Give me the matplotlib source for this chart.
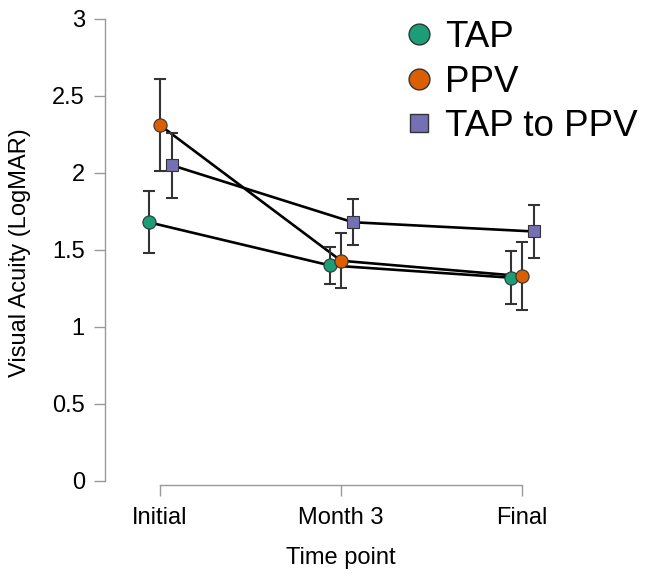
import numpy as np
import matplotlib
matplotlib.use('Agg')
import matplotlib.pyplot as plt
from matplotlib.lines import Line2D

plt.rcParams['font.family'] = ['Liberation Sans', 'DejaVu Sans']

# Data
time_points = ['Initial', 'Month 3', 'Final']
groups = ['TAP', 'PPV', 'TAP to PPV']
tap_mean = [1.68, 1.40, 1.32]
tap_err = [0.20, 0.12, 0.17]
ppv_mean = [2.31, 1.43, 1.33]
ppv_err = [0.30, 0.18, 0.22]
tap_ppv_mean = [2.05, 1.68, 1.62]
tap_ppv_err = [0.21, 0.15, 0.17]

colors = ['#1b9e77', '#d95f02', '#7570b3']
markers = ['o', 'o', 's']
sizes = [9.5, 9.5, 8.5]
dodge = [-0.063, 0.0, 0.065]
means = [tap_mean, ppv_mean, tap_ppv_mean]
errs = [tap_err, ppv_err, tap_ppv_err]

fig = plt.figure(figsize=(6.48, 5.74), dpi=100)
ax = fig.add_axes([0.162, 0.1551, 0.8256, 0.8275])

x = np.arange(len(time_points))
for i in range(3):
    xi = x + dodge[i]
    ax.plot(xi, means[i], color='black', lw=1.9, zorder=2)
    ax.errorbar(xi, means[i], yerr=errs[i], fmt='none', ecolor='#333333',
                elinewidth=1.5, capsize=4.5, capthick=1.5, zorder=3)
    ax.plot(xi, means[i], linestyle='none', marker=markers[i], ms=sizes[i],
            mfc=colors[i], mec='#333333', mew=0.8, zorder=4)

ax.set_xlim(-0.304, 2.652)
ax.set_ylim(-0.026, 3.058)
ax.set_xticks(x)
ax.set_xticklabels(time_points)
ax.set_yticks([0, 0.5, 1, 1.5, 2, 2.5, 3])
ax.set_yticklabels(['0', '0.5', '1', '1.5', '2', '2.5', '3'])

for s in ['top', 'right']:
    ax.spines[s].set_visible(False)
ax.spines['left'].set_bounds(0, 3)
ax.spines['bottom'].set_bounds(0, 2)
for s in ['left', 'bottom']:
    ax.spines[s].set_color('#999999')
    ax.spines[s].set_linewidth(1.0)
ax.tick_params(axis='both', direction='out', length=8, width=1.0,
               color='#999999', labelsize=17)
ax.tick_params(axis='x', pad=7.5)
ax.tick_params(axis='y', pad=6.5)

fig.text(0.5 * (160 + 522) / 648, 1 - 558 / 574, 'Time point', fontsize=17,
         ha='center', va='center')
fig.text(20 / 648, 1 - 253 / 574, 'Visual Acuity (LogMAR)', fontsize=17,
         ha='center', va='center', rotation=90)

handles = [Line2D([], [], linestyle='none', marker=markers[i], ms=15 if i < 2 else 13,
                  mfc=colors[i], mec='#333333', mew=1.0) for i in range(3)]
fig.legend(handles, groups, loc='upper left', bbox_to_anchor=(401 / 648, 1 - 20 / 574),
           frameon=False, fontsize=26.5, borderpad=0, borderaxespad=0,
           handlelength=1.0, handletextpad=0.2, labelspacing=0.26)

fig.savefig('out.png', dpi=100)
